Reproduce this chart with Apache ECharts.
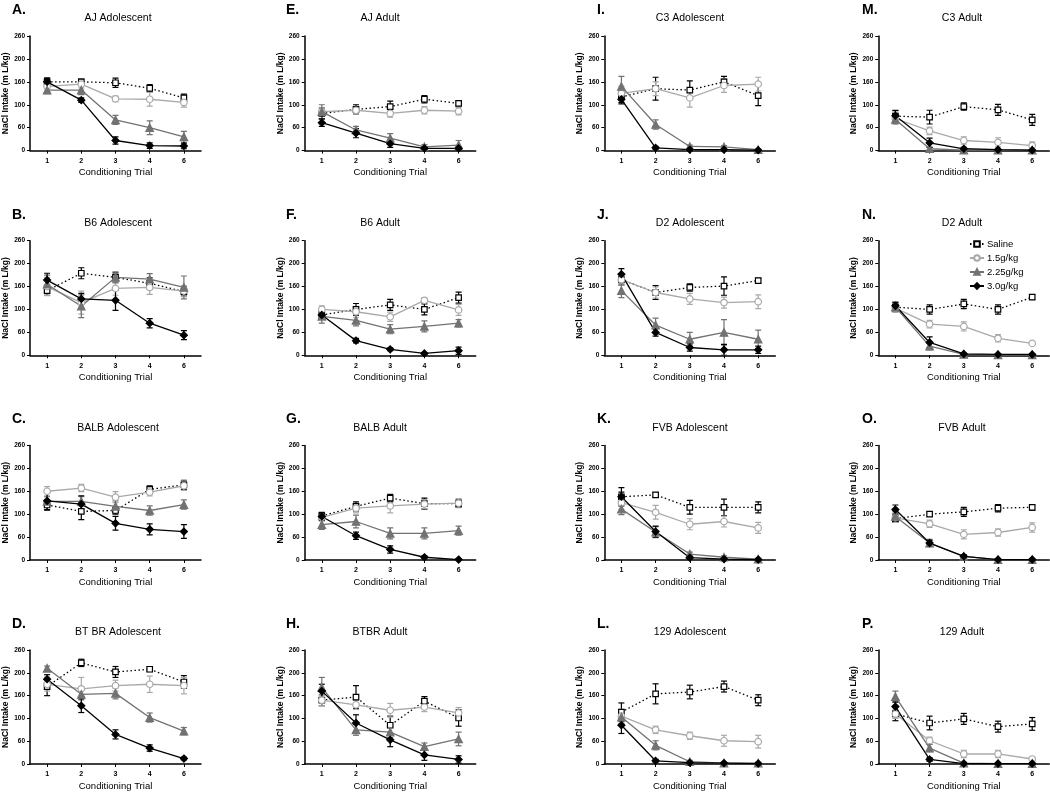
<!DOCTYPE html>
<html>
<head>
<meta charset="utf-8">
<script src="https://cdn.jsdelivr.net/npm/echarts@6/dist/echarts.min.js"></script>
<style>html,body{margin:0;padding:0;background:#fff;}#c{width:1050px;height:792px;}</style>
</head>
<body>
<div id="c"></div>
<script>
// ---------- data ----------
const panelLetters = ['A.','B.','C.','D.','E.','F.','G.','H.','I.','J.','K.','L.','M.','N.','O.','P.'];
const panelTitles = ['AJ Adolescent','B6 Adolescent','BALB Adolescent','BT BR Adolescent',
  'AJ Adult','B6 Adult','BALB Adult','BTBR Adult',
  'C3 Adolescent','D2 Adolescent','FVB Adolescent','129 Adolescent',
  'C3 Adult','D2 Adult','FVB Adult','129 Adult'];
const trialLabels = ['1','2','3','4','6'];
const yTickLabels = ['0','60','100','160','200','260'];
const groupNames = ['Saline','1.5g/kg','2.25g/kg','3.0g/kg'];
const yAxisTitle = 'NaCl Intake (m L/kg)';
const xAxisTitle = 'Conditioning Trial';

// means, one row per panel A..P
const salineMean = [
  [150,150,148,136,115],[141,179,170,157,139],[120,106,108,154,164],[170,222,202,208,180],
  [81,90,96,112,103],[88,100,110,100,126],[96,117,135,123,123],[140,147,85,138,101],
  [117,135,132,150,120],[165,137,148,151,163],[138,142,115,115,115],[114,154,158,170,140],
  [75,73,96,89,67],[105,100,112,100,127],[90,100,105,113,115],[110,90,99,82,88]
];
const low15Mean = [
  [140,145,113,112,105],[150,115,146,148,140],[150,157,137,148,162],[175,165,172,175,172],
  [85,88,81,88,86],[100,95,84,120,99],[93,113,118,122,124],[140,130,118,125,112],
  [125,135,115,142,145],[165,137,123,115,117],[125,104,78,84,70],[105,75,62,51,49],
  [70,43,22,18,11],[103,68,63,37,26],[92,79,56,60,71],[110,51,22,22,11]
];
const mid225Mean = [
  [132,132,67,50,30],[155,107,170,166,148],[128,128,117,108,121],[210,153,155,102,72],
  [85,45,27,8,12],[85,76,57,63,70],[77,84,58,58,64],[168,75,70,38,55],
  [140,57,9,8,2],[141,66,35,50,35],[111,61,13,6,2],[103,41,5,2,2],
  [68,4,1,1,1],[105,20,2,1,1],[95,37,8,1,1],[148,35,2,1,1]
];
const high30Mean = [
  [150,110,22,11,10],[164,123,120,70,44],[129,122,80,67,62],[186,128,65,35,12],
  [61,38,15,5,5],[88,32,13,4,10],[95,53,23,6,1],[160,90,53,20,10],
  [112,6,2,2,1],[177,50,17,12,12],[138,62,5,2,1],[85,7,3,2,1],
  [76,17,4,2,1],[108,28,3,2,2],[110,37,8,1,1],[126,10,1,1,1]
];
// standard errors
const salineErr = [
  [8,6,10,8,8],[10,12,10,12,10],[10,18,8,8,10],[20,8,12,5,14],
  [12,10,12,8,5],[8,13,12,12,12],[8,10,8,12,8],[12,25,20,10,18],
  [12,25,20,12,22],[12,15,8,20,5],[10,5,15,18,12],[20,22,15,12,12],
  [12,15,8,12,12],[10,10,10,10,5],[8,5,10,8,6],[15,15,12,12,14]
];
const low15Err = [
  [12,8,6,15,10],[20,25,15,15,12],[10,8,12,8,10],[15,25,12,18,18],
  [8,8,8,8,8],[8,12,10,5,12],[8,10,15,10,10],[12,10,15,10,12],
  [15,15,20,15,15],[12,12,12,12,15],[15,15,12,12,12],[15,8,8,12,14],
  [12,8,8,10,8],[8,8,10,8,3],[10,8,10,8,10],[10,8,8,8,4]
];
const mid225Err = [
  [8,10,10,15,12],[20,25,12,12,25],[10,10,12,10,10],[5,10,12,10,8],
  [15,8,10,5,10],[15,12,10,12,8],[10,14,12,12,10],[22,12,12,8,15],
  [22,10,3,3,2],[15,15,15,28,20],[12,12,4,3,2],[15,10,3,2,2],
  [10,3,1,1,1],[10,8,2,1,1],[10,8,3,1,1],[12,8,2,1,1]
];
const high30Err = [
  [8,5,8,6,6],[15,12,22,10,10],[20,18,15,12,15],[10,15,10,7,3],
  [8,10,8,3,3],[8,5,3,2,8],[8,8,8,3,1],[15,18,15,12,8],
  [10,3,1,1,1],[12,8,8,12,8],[20,12,3,2,1],[18,3,2,1,1],
  [12,10,3,1,1],[8,12,2,1,1],[10,6,3,1,1],[10,4,1,1,1]
];

// ---------- layout & style ----------
const FONT = '"Liberation Sans", Arial, sans-serif';
const colLeft = [30, 304.7, 604.3, 878.3];
const rowTop = [36, 240.7, 445.4, 650.1];
const plotW = 171, plotH = 114.6;
const titleCx = [118, 380, 690, 962];
const letterX = [12, 286, 597, 862];
const rowStep = 204.7;

const groups = [
  {name: groupNames[0], mean: salineMean, err: salineErr, color: '#000', symbol: 'rect', size: 5.5,
   fill: '#fff', lineType: [1.5, 2.5], lw: 1.3, errColor: '#000'},
  {name: groupNames[1], mean: low15Mean, err: low15Err, color: '#a9a9a9', symbol: 'circle', size: 6.5,
   fill: '#fff', lineType: 'solid', lw: 1.3, errColor: '#a9a9a9'},
  {name: groupNames[2], mean: mid225Mean, err: mid225Err, color: '#727272', symbol: 'triangle', size: 7.5,
   fill: '#727272', lineType: 'solid', lw: 1.3, errColor: '#727272'},
  {name: groupNames[3], mean: high30Mean, err: high30Err, color: '#000', symbol: 'diamond', size: 7,
   fill: '#000', lineType: 'solid', lw: 1.3, errColor: '#000'}
];

const grids = [], xAxes = [], yAxes = [], series = [], graphics = [];

for (let p = 0; p < 16; p++) {
  const col = Math.floor(p / 4), row = p % 4;
  grids.push({left: colLeft[col], top: rowTop[row], width: plotW, height: plotH, containLabel: false});
  xAxes.push({
    type: 'category', gridIndex: p, data: trialLabels, boundaryGap: true,
    axisLine: {show: true, lineStyle: {color: '#000', width: 1.5}},
    axisTick: {show: true, alignWithLabel: true, length: 3, lineStyle: {color: '#000', width: 1}},
    axisLabel: {fontSize: 7, fontWeight: 'bold', color: '#000', margin: 7, fontFamily: FONT},
    splitLine: {show: false},
    name: xAxisTitle, nameLocation: 'middle', nameGap: 17,
    nameTextStyle: {fontSize: 9.5, color: '#000', fontFamily: FONT, fontWeight: 500}
  });
  yAxes.push({
    type: 'value', gridIndex: p, min: 0, max: 250, interval: 50,
    axisLine: {show: true, lineStyle: {color: '#000', width: 1.5}},
    axisTick: {show: true, length: 3, lineStyle: {color: '#000', width: 1}},
    axisLabel: {fontSize: 6.5, fontWeight: 'bold', color: '#000', margin: 5, fontFamily: FONT,
      formatter: v => yTickLabels[Math.round(v / 50)]},
    splitLine: {show: false},
    name: yAxisTitle, nameLocation: 'middle', nameGap: 19, nameRotate: 90,
    nameTextStyle: {fontSize: 8.5, fontWeight: 'bold', color: '#000', fontFamily: FONT}
  });

  groups.forEach((g) => {
    const errData = g.mean[p].map((m, i) => [i, Math.max(0, m - g.err[p][i]), m + g.err[p][i]]);
    series.push({
      type: 'custom', name: g.name + ' SEM', xAxisIndex: p, yAxisIndex: p, z: 2, silent: true,
      encode: {x: 0, y: [1, 2]}, data: errData, clip: true,
      renderItem: (params, api) => {
        const lo = api.coord([api.value(0), api.value(1)]);
        const hi = api.coord([api.value(0), api.value(2)]);
        const cw = 3;
        const st = {stroke: g.errColor, lineWidth: 1.2};
        return {type: 'group', children: [
          {type: 'line', shape: {x1: lo[0], y1: lo[1], x2: hi[0], y2: hi[1]}, style: st},
          {type: 'line', shape: {x1: lo[0] - cw, y1: lo[1], x2: lo[0] + cw, y2: lo[1]}, style: st},
          {type: 'line', shape: {x1: hi[0] - cw, y1: hi[1], x2: hi[0] + cw, y2: hi[1]}, style: st}
        ]};
      }
    });
  });
  groups.forEach((g) => {
    series.push({
      type: 'line', name: g.name, xAxisIndex: p, yAxisIndex: p, z: 3, silent: true,
      data: g.mean[p], symbol: g.symbol, symbolSize: g.size, showSymbol: true,
      lineStyle: {color: g.color, width: g.lw, type: g.lineType},
      itemStyle: {color: g.fill, borderColor: g.color, borderWidth: 1.2}
    });
  });

  graphics.push({
    type: 'text', x: letterX[col], y: 10 + row * rowStep,
    style: {text: panelLetters[p], font: 'bold 14px ' + FONT, fill: '#000',
      align: 'left', verticalAlign: 'middle', textAlign: 'left', textVerticalAlign: 'middle'}
  });
  graphics.push({
    type: 'text', x: titleCx[col], y: 18.5 + row * rowStep,
    style: {text: panelTitles[p], font: '10.5px ' + FONT, fill: '#000',
      align: 'center', verticalAlign: 'middle', textAlign: 'center', textVerticalAlign: 'middle'}
  });
}

const chart = echarts.init(document.getElementById('c'), null, {renderer: 'canvas'});
chart.setOption({
  animation: false,
  backgroundColor: '#fff',
  grid: grids, xAxis: xAxes, yAxis: yAxes, series: series,
  graphic: graphics,
  legend: {
    data: groupNames, orient: 'vertical', left: 964, top: 234, itemGap: 4,
    itemWidth: 14, itemHeight: 7,
    textStyle: {fontSize: 9.5, color: '#000', fontFamily: FONT, padding: [0, 0, 0, -2]}
  }
});
</script>
</body>
</html>
